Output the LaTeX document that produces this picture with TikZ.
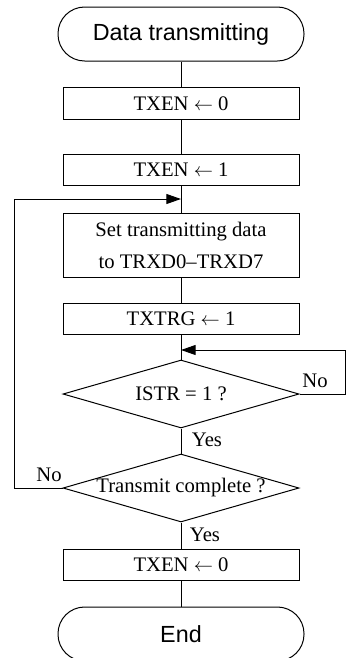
\documentclass[tikz,border=0pt]{standalone}
\usepackage{fontspec}
\setmainfont{Liberation Serif}
\setsansfont{Liberation Sans}
\usetikzlibrary{shapes.geometric,arrows.meta}

\begin{document}
\begin{tikzpicture}[
		x=0.75pt, y=-0.75pt,
		line/.style={black, line width=0.75pt},
		term/.style={draw, line width=0.75pt, rounded corners=20pt, minimum width=184.5pt, minimum height=40.5pt, inner sep=0pt, font=\sffamily\fontsize{17.5pt}{20pt}\selectfont},
		proc/.style={draw, line width=0.75pt, minimum width=177pt, minimum height=23.5pt, inner sep=0pt, font=\fontsize{15.5pt}{24pt}\selectfont},
		cond/.style={draw, diamond, aspect=3.47, line width=0.75pt, minimum width=177pt, minimum height=51pt, inner sep=0pt, font=\fontsize{15.5pt}{18pt}\selectfont},
		lbl/.style={inner sep=0pt, font=\fontsize{15.5pt}{18pt}\selectfont},
		tip/.style={-{Triangle[length=11pt, width=7.5pt]}}
		]
		
		\useasboundingbox (0,0) rectangle (347,658);
		
		% 节点
		\node[term] (start) at (181,34) {Data transmitting};
		\node[proc] (b1) at (181,103.5) {TXEN $\leftarrow$ 0};
		\node[proc] (b2) at (181,170) {TXEN $\leftarrow$ 1};
		\node[proc, minimum height=48pt, align=center] (b3) at (181,245) {Set transmitting data\\to TRXD0--TRXD7};
		\node[proc] (b4) at (181,319) {TXTRG $\leftarrow$ 1};
		\node[cond] (d1) at (181,394) {ISTR = 1 ?};
		\node[cond] (d2) at (181,488) {Transmit complete ?};
		\node[proc] (b5) at (181,565) {TXEN $\leftarrow$ 0};
		\node[term] (end) at (181,634) {End};
		
		% 汇合点
		\coordinate (j1) at (181,199);
		\coordinate (j2) at (181,350);
		
		% 画线
		\draw[line] (start) -- (b1);
		\draw[line] (b1) -- (b2);
		\draw[line] (b2) -- (b3);
		\draw[line] (b3) -- (b4);
		\draw[line] (b4) -- (d1);
		\draw[line] (d1) -- (d2);
		\draw[line] (d2) -- (b5);
		\draw[line] (b5) -- (end);
		
		% 回路
		\draw[line, tip] (d1.east) -- ++(46,0) |- (j2);
		\draw[line, tip] (d2.west) -- ++(-48,0) |- (j1);
		
		% 标注
		\node[lbl] (no1) at (315,381) {No};
		\node[lbl] (yes1) at (207,440) {Yes};
		\node[lbl] (no2) at (49,475) {No};
		\node[lbl] (yes2) at (205,535) {Yes};
		
	\end{tikzpicture}
\end{document}
